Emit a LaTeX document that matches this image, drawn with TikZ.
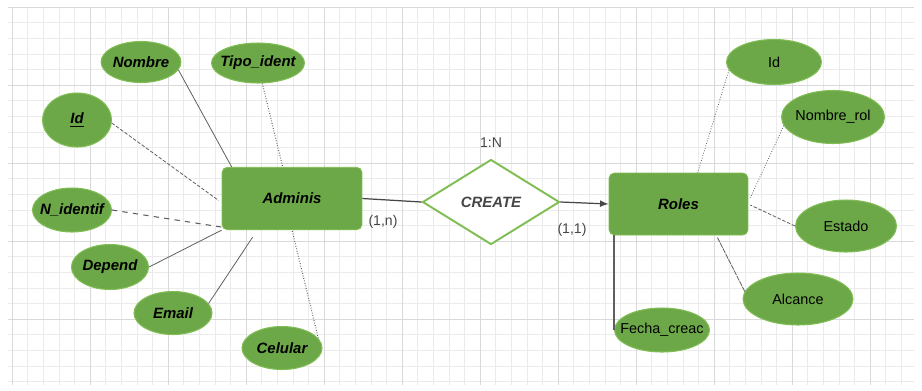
\documentclass[tikz,border=0pt]{standalone}
\usepackage{fontspec}
\setmainfont{Liberation Sans}
\usetikzlibrary{arrows, calc, positioning, shapes}
\definecolor{ergreen}{RGB}{108,168,72}
\definecolor{erborder}{RGB}{128,190,84}
\definecolor{erline}{RGB}{95,95,95}
\definecolor{ertext}{RGB}{70,70,70}

\begin{document}
\begin{tikzpicture}[x=0.02cm, y=-0.02cm,
    attr/.style={draw=erborder, line width=0.6pt, ellipse, fill=ergreen, inner sep=0pt,
        font=\fontsize{8.2}{10}\selectfont},
    keyattr/.style={attr, font=\fontsize{8.5}{10}\selectfont\bfseries\itshape},
    entity/.style={draw=erborder, fill=ergreen, rounded corners=3pt, inner sep=0pt,
        minimum width=2.8cm, minimum height=1.25cm, font=\fontsize{8.5}{10}\selectfont\bfseries\itshape},
    link/.style={draw=erline, line width=0.45pt},
    lbl/.style={text=ertext, font=\fontsize{8}{9}\selectfont}]
    \useasboundingbox (0,0) rectangle (922,390);
    % background grid
    \fill[white] (0,0) rectangle (922,390);
    \foreach \gx in {12,27.6,...,914} \draw[black!8, line width=0.3pt] (\gx,8) -- (\gx,385);
    \foreach \gy in {7,22.6,...,385} \draw[black!8, line width=0.3pt] (8,\gy) -- (914,\gy);
    \foreach \gx in {12,90,...,914} \draw[black!15, line width=0.4pt] (\gx,8) -- (\gx,385);
    \foreach \gy in {7,85,...,385} \draw[black!15, line width=0.4pt] (8,\gy) -- (914,\gy);

    % entities and relation
    \node[entity] (Adminis) at (292,198.5) {Adminis};
    \node[entity, minimum width=2.78cm, minimum height=1.24cm] (Roles) at (678.5,204) {Roles};
    \node[draw=erborder, line width=1.1pt, diamond, fill=white, inner sep=0pt,
        minimum width=2.74cm, minimum height=1.7cm, text=ertext,
        font=\fontsize{8.5}{10}\selectfont\bfseries\itshape] (Create) at (491,202) {CREATE};

    \node[lbl] (card) at (491,143) {1:N};
    \node[lbl] (cardA) at (383,222) {(1,n)};
    \node[lbl] (cardR) at (572,230) {(1,1)};

    % attributes of Adminis
    \node[keyattr, minimum width=1.56cm, minimum height=0.82cm] (Anombre) at (141,62) {Nombre};
    \node[keyattr, minimum width=1.86cm, minimum height=0.8cm] (Atipo) at (258,63) {\makebox[0pt]{Tipo\_ident}};
    \node[keyattr, minimum width=1.38cm, minimum height=1.08cm] (Aid) at (77,120) {\underline{Id}};
    \node[keyattr, minimum width=1.58cm, minimum height=0.88cm] (Anident) at (72,210) {\makebox[0pt]{N\_identif}};
    \node[keyattr, minimum width=1.54cm, minimum height=0.9cm] (Adepend) at (110,267) {\makebox[0pt]{Depend}};
    \node[keyattr, minimum width=1.56cm, minimum height=0.86cm] (Aemail) at (173,313) {Email};
    \node[keyattr, minimum width=1.6cm, minimum height=0.86cm] (Acelular) at (282,348) {\makebox[0pt]{Celular}};

    % attributes of Roles
    \node[attr, minimum width=1.9cm, minimum height=0.9cm] (Rid) at (774,62) {Id};
    \node[attr, minimum width=2.06cm, minimum height=1.06cm] (Rnombre) at (833,117) {\makebox[0pt]{Nombre\_rol}};
    \node[attr, minimum width=2.02cm, minimum height=1.04cm] (Restado) at (846,226) {Estado};
    \node[attr, minimum width=2.2cm, minimum height=1.04cm] (Ralcance) at (798,299) {Alcance};
    \node[attr, minimum width=1.9cm, minimum height=0.88cm] (Rfecha) at (662,330) {\makebox[0pt]{Fecha\_creac}};

    % links
    \draw[link] (Anombre.-12) -- ($(Adminis.north west)+(10,0)$);
    \draw[link, densely dotted, line width=0.6pt] (Atipo.-78) -- ($(Adminis.north west)+(61,0)$);
    \draw[link, dash pattern=on 2pt off 1pt] (Aid.-5) -- ($(Adminis.west)+(-3,2)$);
    \draw[link, dashed, line width=0.6pt] (Anident.east) -- ($(Adminis.south west)+(0,-3)$);
    \draw[link] (Adepend.east) -- (Adminis.south west);
    \draw[link] (Aemail.15) -- ($(Adminis.south west)+(31,7)$);
    \draw[link, densely dotted, line width=0.6pt] (Acelular.15) -- (Adminis.south);

    \draw[link, densely dotted] (Rid.190) -- ($(Roles.north west)+(89,0)$);
    \draw[link, densely dotted] (Rnombre.190) -- ($(Roles.north east)+(2,25)$);
    \draw[link, dash pattern=on 2pt off 1pt] (Restado.west) -- ($(Roles.east)+(2,1)$);
    \draw[link, dash pattern=on 3pt off 0.5pt] (Ralcance.172) -- ($(Roles.south east)+(-31,2)$);
    \draw[link, line width=0.9pt] (Rfecha.west) -- (Rfecha.west |- Roles.south);

    \draw[link, line width=0.7pt, draw=ertext] (Adminis.east) -- (Create.west);
    \draw[link, line width=0.7pt, draw=ertext, -latex] (Create.east) -- (Roles.west);
\end{tikzpicture}
\end{document}
